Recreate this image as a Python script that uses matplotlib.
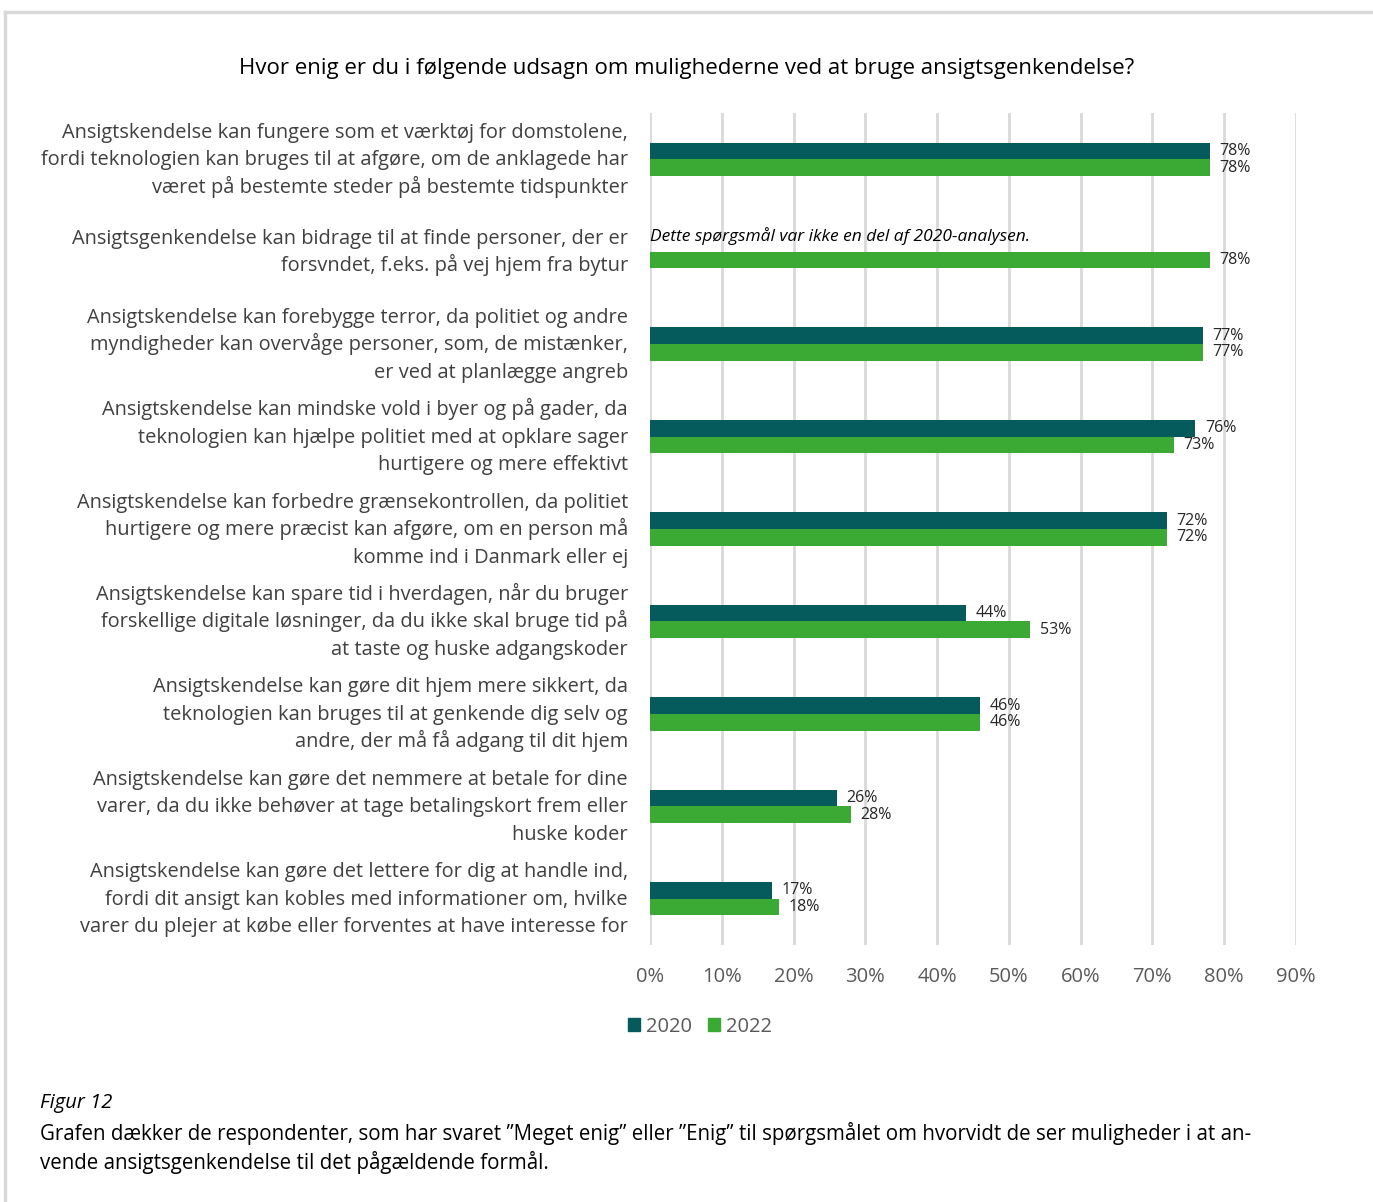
import matplotlib.pyplot as plt
import matplotlib.transforms as mtransforms
import numpy as np
from matplotlib.lines import Line2D
from matplotlib.patches import Patch

plt.rcParams["font.family"] = ["Open Sans", "DejaVu Sans"]

title = "Hvor enig er du i følgende udsagn om mulighederne ved at bruge ansigtsgenkendelse?"

categories = [
    "Ansigtskendelse kan fungere som et værktøj for domstolene,\nfordi teknologien kan bruges til at afgøre, om de anklagede har\nværet på bestemte steder på bestemte tidspunkter",
    "Ansigtsgenkendelse kan bidrage til at finde personer, der er\nforsvndet, f.eks. på vej hjem fra bytur",
    "Ansigtskendelse kan forebygge terror, da politiet og andre\nmyndigheder kan overvåge personer, som, de mistænker,\ner ved at planlægge angreb",
    "Ansigtskendelse kan mindske vold i byer og på gader, da\nteknologien kan hjælpe politiet med at opklare sager\nhurtigere og mere effektivt",
    "Ansigtskendelse kan forbedre grænsekontrollen, da politiet\nhurtigere og mere præcist kan afgøre, om en person må\nkomme ind i Danmark eller ej",
    "Ansigtskendelse kan spare tid i hverdagen, når du bruger\nforskellige digitale løsninger, da du ikke skal bruge tid på\nat taste og huske adgangskoder",
    "Ansigtskendelse kan gøre dit hjem mere sikkert, da\nteknologien kan bruges til at genkende dig selv og\nandre, der må få adgang til dit hjem",
    "Ansigtskendelse kan gøre det nemmere at betale for dine\nvarer, da du ikke behøver at tage betalingskort frem eller\nhuske koder",
    "Ansigtskendelse kan gøre det lettere for dig at handle ind,\nfordi dit ansigt kan kobles med informationer om, hvilke\nvarer du plejer at købe eller forventes at have interesse for",
]
values_2020 = [78, None, 77, 76, 72, 44, 46, 26, 17]
values_2022 = [78, 78, 77, 73, 72, 53, 46, 28, 18]
series_names = ["2020", "2022"]
xticks = [0, 10, 20, 30, 40, 50, 60, 70, 80, 90]

note = "Dette spørgsmål var ikke en del af 2020-analysen."
fig_label = "Figur 12"
caption = ("Grafen dækker de respondenter, som har svaret \u201dMeget enig\u201d eller \u201dEnig\u201d til spørgsmålet om hvorvidt de ser muligheder i at an-\n"
           "vende ansigtsgenkendelse til det pågældende formål.")

c2020 = "#055a5b"
c2022 = "#3aaa35"
text_dark = "#262626"

fig = plt.figure(figsize=(13.73, 12.02), dpi=100)
ax = fig.add_axes([0.4734, 0.2138, 0.4705, 0.6922])

n = len(categories)
y = np.arange(n)
h = 0.18

for i in range(n):
    if values_2020[i] is not None:
        ax.barh(y[i] - h / 2, values_2020[i], height=h, color=c2020, zorder=3)
        ax.text(values_2020[i] + 1.3, y[i] - h / 2, f"{values_2020[i]}%",
                va="center", ha="left", fontsize=11.5, color=text_dark)
    else:
        ax.text(0, y[i] - h / 2 - 0.08, note, va="center", ha="left",
                fontsize=12.5, style="italic", color="black", zorder=4)
    ax.barh(y[i] + h / 2, values_2022[i], height=h, color=c2022, zorder=3)
    ax.text(values_2022[i] + 1.3, y[i] + h / 2, f"{values_2022[i]}%",
            va="center", ha="left", fontsize=11.5, color=text_dark)

ax.set_ylim(n - 0.5, -0.5)
ax.set_xlim(0, 90)
ax.set_yticks(y)
ax.set_yticklabels([])
ax.set_xticks(xticks)
ax.set_xticklabels([f"{t}%" for t in xticks], fontsize=14.5, color="#595959")
ax.tick_params(length=0)
ax.tick_params(axis="x", pad=16)
ax.grid(axis="x", color="#d9d9d9", linewidth=2, zorder=0)
for s in ax.spines.values():
    s.set_visible(False)

# category labels drawn line by line so the line pitch stays even
label_trans = mtransforms.blended_transform_factory(ax.transAxes, ax.transData)
line_pitch = 27.5
for i, label in enumerate(categories):
    lines = label.split("\n")
    m = len(lines)
    for k, line in enumerate(lines):
        dy = -((k - (m - 1) / 2) * line_pitch + 6)
        tr = mtransforms.offset_copy(label_trans, fig=fig, x=-22, y=dy, units="dots")
        ax.text(0, y[i], line, transform=tr, ha="right", va="baseline",
                fontsize=14.4, color="#404040", clip_on=False)

fig.text(0.5, 0.943, title, ha="center", va="center", fontsize=16, color="black")

handles = [Patch(color=c2020), Patch(color=c2022)]
fig.legend(handles, series_names, loc="center", bbox_to_anchor=(0.51, 0.146),
           ncol=2, frameon=False, fontsize=14.5, handlelength=0.6, handleheight=0.6,
           handletextpad=0.3, columnspacing=0.8, labelcolor="#595959")

fig.text(0.029, 0.082, fig_label, fontsize=14.5, style="italic", va="center", color="black")
fig.text(0.029, 0.045, caption, fontsize=14.8, va="center", color="black", linespacing=1.35)

# light frame around the figure panel
fig.add_artist(Line2D([0.004, 1.0], [0.99, 0.99], color="#d9d9d9", linewidth=2.5, transform=fig.transFigure))
fig.add_artist(Line2D([0.004, 0.004], [0.0, 0.99], color="#d9d9d9", linewidth=2.5, transform=fig.transFigure))

fig.savefig("out.png", dpi=100)
